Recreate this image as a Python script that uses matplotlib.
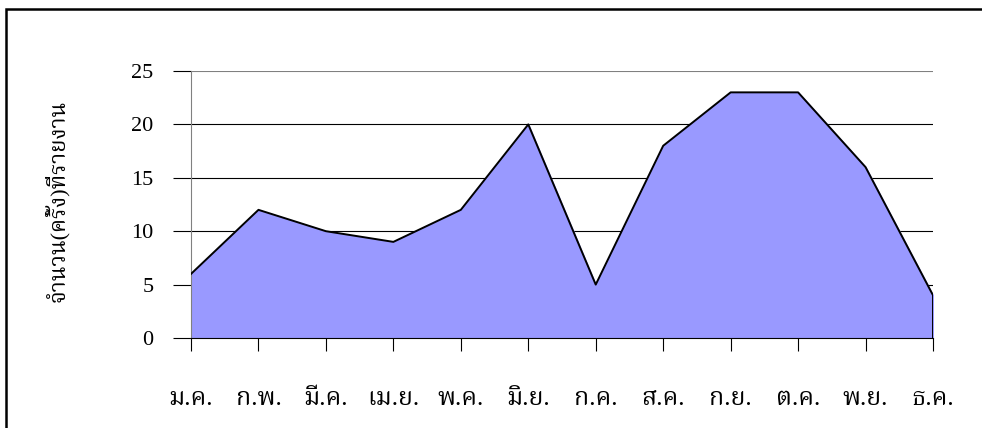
import matplotlib
matplotlib.use('Agg')
import matplotlib.pyplot as plt
from matplotlib.patches import Rectangle

months = ['ม.ค.', 'ก.พ.', 'มี.ค.', 'เม.ย.', 'พ.ค.', 'มิ.ย.',
          'ก.ค.', 'ส.ค.', 'ก.ย.', 'ต.ค.', 'พ.ย.', 'ธ.ค.']
reports = [6, 12, 10, 9, 12, 20, 5, 18, 23, 23, 16, 4]
y_ticks = [0, 5, 10, 15, 20, 25]
y_label = 'จำนวน(ครั้ง)ที่รายงาน'

fonts = ['Liberation Serif', 'Noto Serif Thai']

fig = plt.figure(figsize=(9.82, 4.28), dpi=100)
ax = fig.add_axes([191 / 982, 1 - 338 / 428, 742 / 982, 267 / 428])

xs = list(range(len(months)))
ax.fill_between(xs, reports, 0, color='#9999ff', zorder=2)
ax.plot(xs, reports, color='black', lw=1.4, zorder=3)
ax.plot([xs[-1], xs[-1]], [0, reports[-1]], color='black', lw=1.4, zorder=3)

ax.set_xlim(0, len(months) - 1)
ax.set_ylim(0, 25)
ax.set_yticks(y_ticks)
ax.set_yticklabels([str(v) for v in y_ticks], family=fonts, fontsize=16)
ax.set_xticks(xs)
ax.set_xticklabels(months, family=fonts, fontsize=18)

for v in y_ticks[1:-1]:
    ax.axhline(v, color='black', lw=0.8, zorder=1)
ax.axhline(25, color='#808080', lw=0.8, zorder=1)

for s in ['top', 'right']:
    ax.spines[s].set_visible(False)
ax.spines['left'].set_color('#808080')
ax.spines['left'].set_linewidth(0.8)
ax.spines['bottom'].set_color('black')
ax.spines['bottom'].set_linewidth(0.8)
ax.spines['bottom'].set_zorder(4)

ax.tick_params(axis='y', length=13, width=0.8, color='black', pad=14)
ax.tick_params(axis='x', length=9, width=0.8, color='black', pad=27)

fig.text(57 / 982, 1 - 201 / 428, y_label, rotation=90, family=fonts,
         fontsize=16, ha='center', va='center')

# chart border
fig.patches.append(Rectangle((6 / 982, -0.1), 1.2, 1.1 - 9 / 428,
                             transform=fig.transFigure, fill=False,
                             edgecolor='black', lw=1.8))

fig.savefig('out.png')
